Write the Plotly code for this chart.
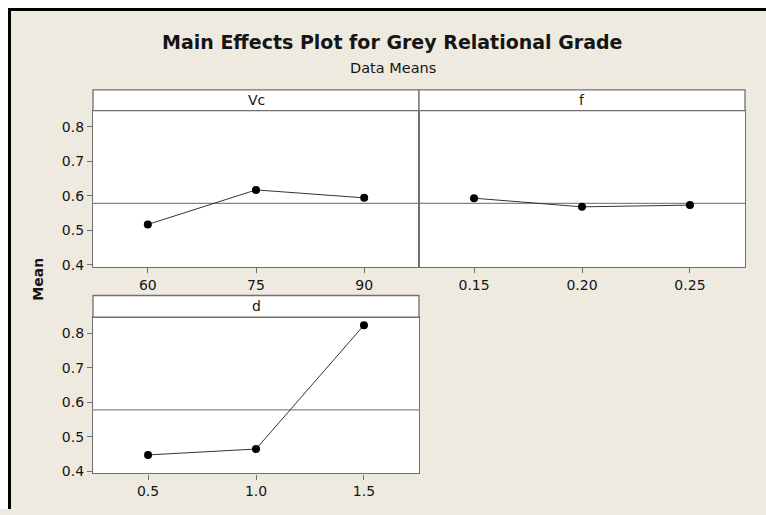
import plotly.graph_objects as go

# ---- data ----
vc_levels = [60, 75, 90]
vc_means = [0.517, 0.617, 0.594]
f_levels = [0.15, 0.20, 0.25]
f_means = [0.593, 0.568, 0.573]
d_levels = [0.5, 1.0, 1.5]
d_means = [0.448, 0.465, 0.823]
grand_mean = 0.578

vc_ticks = ["60", "75", "90"]
f_ticks = ["0.15", "0.20", "0.25"]
d_ticks = ["0.5", "1.0", "1.5"]
y_ticks = [0.4, 0.5, 0.6, 0.7, 0.8]

W, H = 766, 515
BG = "#EEEAE0"
GRID = "#707070"
TXT = "#151515"
FONT = "DejaVu Sans"


def px(x):
    return x / W


def py(y):
    return 1 - y / H


fig = go.Figure()

series = [
    (vc_levels, vc_means, "x", "y"),
    (f_levels, f_means, "x2", "y2"),
    (d_levels, d_means, "x3", "y3"),
]
for xs, ys, xa, ya in series:
    fig.add_trace(go.Scatter(
        x=xs, y=ys, xaxis=xa, yaxis=ya, mode="lines+markers",
        line=dict(color="#333333", width=1),
        marker=dict(color="black", size=8),
        showlegend=False, hoverinfo="x+y"))

# grand mean reference lines
for xa, ya in [("x", "y"), ("x2", "y2"), ("x3", "y3")]:
    fig.add_shape(type="line", xref=f"{xa} domain", yref=ya, x0=0, x1=1,
                  y0=grand_mean, y1=grand_mean,
                  line=dict(color="#858585", width=1.3), layer="below")

TICKFONT = dict(family=FONT, size=14, color=TXT)
ax_common = dict(showline=True, linecolor=GRID, linewidth=1.3, mirror=True,
                 showgrid=False, zeroline=False, ticks="outside", ticklen=5,
                 tickcolor=GRID, tickfont=TICKFONT)

top_y = [py(270), py(112)]
bot_y = [py(479), py(321)]
yr = [0.3945, 0.846]

fig.update_layout(
    width=W, height=H,
    margin=dict(l=0, r=0, t=0, b=0),
    paper_bgcolor=BG, plot_bgcolor="white",
    font=dict(family=FONT, color=TXT),
    xaxis=dict(domain=[px(93), px(419)], range=[52.4, 97.6], anchor="y",
               tickvals=vc_levels, ticktext=vc_ticks, **ax_common),
    yaxis=dict(domain=top_y, range=yr, anchor="x",
               tickvals=y_ticks, tickformat=".1f", **ax_common),
    xaxis2=dict(domain=[px(419), px(745)], range=[0.1245, 0.2755], anchor="y2",
                tickvals=f_levels, ticktext=f_ticks, **ax_common),
    yaxis2=dict(domain=top_y, range=yr, anchor="x2", showticklabels=False,
                **{k: v for k, v in ax_common.items() if k != "ticks"}, ticks=""),
    xaxis3=dict(domain=[px(93), px(419)], range=[0.245, 1.755], anchor="y3",
                tickvals=d_levels, ticktext=d_ticks, **ax_common),
    yaxis3=dict(domain=bot_y, range=yr, anchor="x3",
                tickvals=y_ticks, tickformat=".1f", **ax_common),
)

# strip headers
strips = [(93, 419, 91, 112, "Vc"), (419, 745, 91, 112, "f"), (93, 419, 299, 321, "d")]
for x0, x1, y0, y1, lab in strips:
    fig.add_shape(type="rect", xref="paper", yref="paper",
                  x0=px(x0), x1=px(x1), y0=py(y1), y1=py(y0),
                  fillcolor="white", line=dict(color=GRID, width=1.3))
    fig.add_annotation(x=px((x0 + x1) / 2), y=py((y0 + y1) / 2), xref="paper", yref="paper",
                       text=lab, showarrow=False, font=dict(family=FONT, size=14, color=TXT),
                       xanchor="center", yanchor="middle")

# outer frame: white margin + black border (top and left)
fig.add_shape(type="rect", xref="paper", yref="paper", x0=0, x1=1, y0=py(8), y1=1,
              fillcolor="white", line=dict(width=0), layer="below")
fig.add_shape(type="rect", xref="paper", yref="paper", x0=0, x1=px(8), y0=0, y1=1,
              fillcolor="white", line=dict(width=0), layer="below")
fig.add_shape(type="line", xref="paper", yref="paper", x0=px(8), x1=1, y0=py(9.5), y1=py(9.5),
              line=dict(color="black", width=3))
fig.add_shape(type="line", xref="paper", yref="paper", x0=px(9.5), x1=px(9.5), y0=0, y1=py(8),
              line=dict(color="black", width=3))

# titles
fig.add_annotation(x=px(393), y=py(43), xref="paper", yref="paper",
                   text="<b>Main Effects Plot for Grey Relational Grade</b>", showarrow=False,
                   font=dict(family=FONT, size=19, color=TXT), xanchor="center", yanchor="middle")
fig.add_annotation(x=px(393), y=py(69), xref="paper", yref="paper",
                   text="Data Means", showarrow=False,
                   font=dict(family=FONT, size=14.5, color=TXT), xanchor="center", yanchor="middle")
fig.add_annotation(x=px(38), y=py(283), xref="paper", yref="paper",
                   text="<b>Mean</b>", showarrow=False, textangle=-90,
                   font=dict(family=FONT, size=14, color=TXT), xanchor="center", yanchor="middle")

fig.write_html("out.html", config={"displayModeBar": False},
               post_script="document.body.style.margin='0';"
                           "document.body.style.overflow='hidden';"
                           "document.documentElement.style.background='" + BG + "';"
                           "document.body.style.background='" + BG + "';")
